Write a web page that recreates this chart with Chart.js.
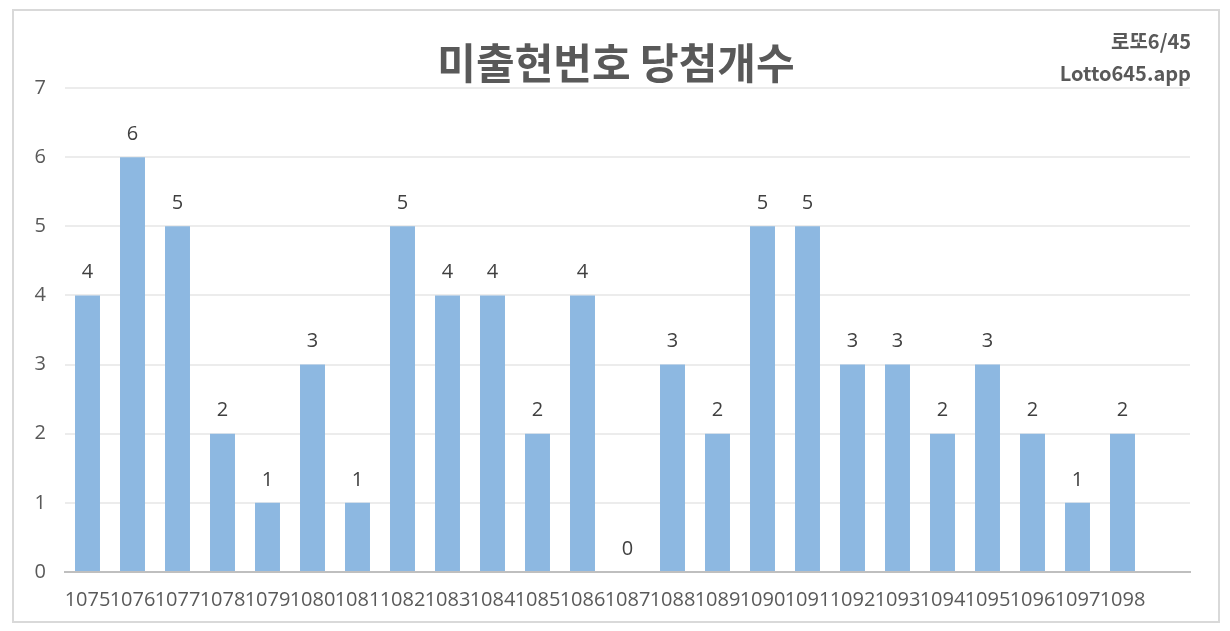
<!DOCTYPE html>
<html>
<head>
<meta charset="utf-8">
<script src="https://cdn.jsdelivr.net/npm/chart.js@4"></script>
<style>
	html, body { margin:0; padding:0; background:#ffffff; }
	#wrap { position:relative; width:1230px; height:631px; }
</style>
</head>
<body>
<div id="wrap"><canvas id="appBarChart" width="1230" height="631"></canvas></div>
<script>
//========================================================//
// 차트 데이터
//--------------------------------------------------------//
// 회차 (마지막 칸은 빈 칸)
const rounds = ['1075','1076','1077','1078','1079','1080','1081','1082','1083','1084','1085','1086',
                '1087','1088','1089','1090','1091','1092','1093','1094','1095','1096','1097','1098',''];
// 미출현번호 당첨개수
const counts = [4,6,5,2,1,3,1,5,4,4,2,4,0,3,2,5,5,3,3,2,3,2,1,2,null];
// Y축 눈금
const yTicks = [0,1,2,3,4,5,6,7];

const chartTitle = '미출현번호 당첨개수';
const brandLines = ['로또6/45', 'Lotto645.app'];

const TEXT_COLOR = '#595959';
const FONT = '"Open Sans", "Noto Sans", sans-serif';
const KR_FONT = '"Noto Sans CJK KR", "Noto Sans", sans-serif';

// 테두리, 제목, 값 라벨 그리기
//--------------------------------------------------------//
const decoPlugin = {
	id: 'deco',
	beforeDraw: function(chart) {
		let ctx = chart.ctx;
		ctx.save();
		ctx.fillStyle = '#ffffff';
		ctx.fillRect(0, 0, chart.width, chart.height);
		ctx.strokeStyle = '#d9d9d9';
		ctx.lineWidth = 2;
		ctx.strokeRect(13, 10, 1206, 612);
		ctx.restore();
	},
	afterDraw: function(chart) {
		let ctx = chart.ctx;
		ctx.save();
		// 제목
		ctx.fillStyle = TEXT_COLOR;
		ctx.textAlign = 'center';
		ctx.textBaseline = 'middle';
		ctx.font = 'bold 42px ' + KR_FONT;
		ctx.fillText(chartTitle, 616, 63);
		// 우측 상단
		ctx.textAlign = 'right';
		ctx.font = 'bold 20px ' + KR_FONT;
		ctx.fillText(brandLines[0], 1191, 41);
		ctx.fillText(brandLines[1], 1191, 73);
		// 값 라벨
		let meta = chart.getDatasetMeta(0);
		ctx.fillStyle = '#404040';
		ctx.textAlign = 'center';
		ctx.font = '20px ' + FONT;
		meta.data.forEach(function(bar, i) {
			let v = counts[i];
			if (v === null || v === undefined) return;
			ctx.fillText(String(v), bar.x, bar.y - 23);
		});
		ctx.restore();
	}
};

new Chart(document.getElementById('appBarChart'), {
	type: 'bar',
	data: {
		labels: rounds,
		datasets: [{
			label: chartTitle,
			data: counts,
			backgroundColor: '#8db8e1',
			borderWidth: 0,
			barPercentage: 0.555,
			categoryPercentage: 1.0
		}]
	},
	options: {
		responsive: false,
		animation: false,
		devicePixelRatio: 1,
		layout: {
			padding: { top: 88, right: 40, left: 0, bottom: 0 }
		},
		plugins: {
			legend: { display: false },
			tooltip: { enabled: false },
			title: { display: false }
		},
		scales: {
			x: {
				grid: { display: false, drawTicks: false },
				border: { display: true, color: '#bfbfbf', width: 2 },
				ticks: {
					color: TEXT_COLOR,
					font: { size: 20, family: FONT },
					padding: 16,
					maxRotation: 0,
					minRotation: 0,
					autoSkip: false
				},
				afterFit: function(scale) { scale.height = 59; }
			},
			y: {
				min: 0,
				max: 7,
				afterBuildTicks: function(scale) {
					scale.ticks = yTicks.map(function(v) { return { value: v }; });
				},
				grid: { color: '#ececec', lineWidth: 2, drawTicks: false },
				border: { display: false },
				ticks: {
					color: TEXT_COLOR,
					font: { size: 20, family: FONT },
					padding: 19
				},
				afterFit: function(scale) { scale.width = 65; }
			}
		}
	},
	plugins: [decoPlugin]
});
</script>
</body>
</html>
